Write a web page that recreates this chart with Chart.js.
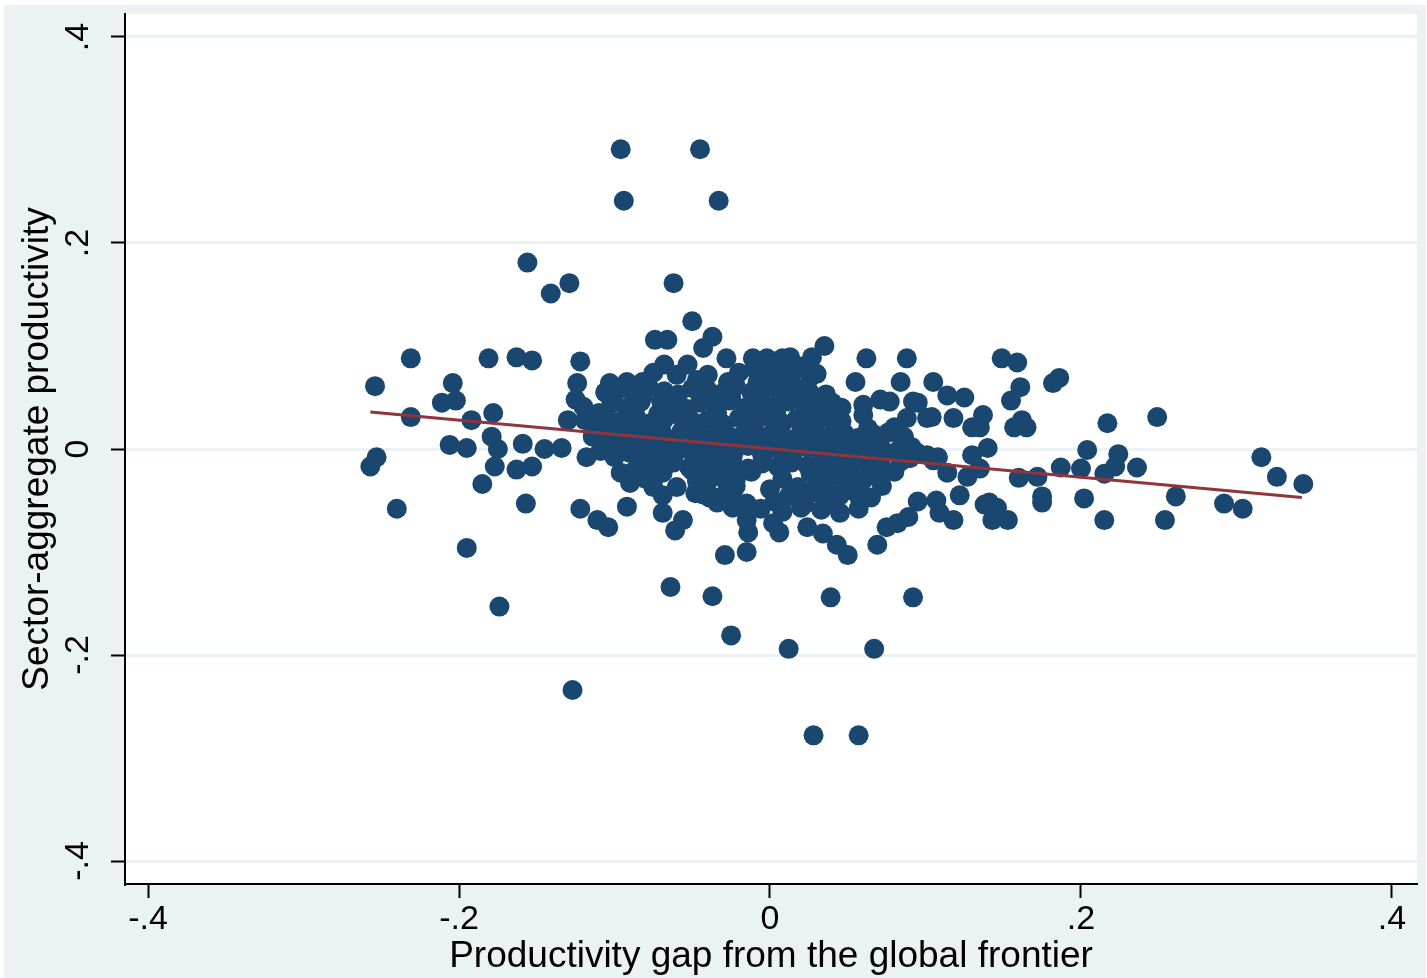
<!DOCTYPE html>
<html>
<head>
<meta charset="utf-8">
<script src="https://cdn.jsdelivr.net/npm/chart.js@4"></script>
<style>
  html, body { margin: 0; padding: 0; background: #fff; }
  #wrap { width: 1427px; height: 978px; }
</style>
</head>
<body>
<div id="wrap"><canvas id="chart" width="1427" height="978"></canvas></div>
<script>
// axis setup
const tickValues = [-0.4, -0.2, 0, 0.2, 0.4];
const xRange = [-0.4148, 0.4161];
const yRange = [-0.4223, 0.4223];

// linear fit line end points
const fitX = [-0.257, 0.342];
const fitY = [0.036, -0.047];

// points: [gap, productivity]
const outerPoints = [
  [-0.096, 0.291], [-0.045, 0.291], [-0.094, 0.241], [-0.033, 0.241], [-0.156, 0.181],
  [-0.129, 0.161], [-0.141, 0.151], [-0.062, 0.161], [-0.050, 0.124], [-0.037, 0.109],
  [-0.074, 0.106], [-0.066, 0.106], [-0.043, 0.098], [0.035, 0.100], [0.013, 0.089],
  [0.027, 0.089], [0.062, 0.088], [0.088, 0.088], [-0.028, 0.088], [-0.011, 0.088],
  [-0.002, 0.088], [0.008, 0.088], [0.149, 0.088], [0.159, 0.084],
  [-0.127, -0.234], [-0.064, -0.134], [-0.037, -0.143], [-0.025, -0.181], [0.012, -0.194],
  [0.028, -0.278], [0.057, -0.278], [0.067, -0.194], [0.039, -0.144], [0.092, -0.144],
];

const leftPoints = [
  [-0.231, 0.088], [-0.181, 0.088], [-0.163, 0.089], [-0.153, 0.086], [-0.122, 0.085],
  [-0.254, 0.061], [-0.204, 0.064], [-0.211, 0.045], [-0.202, 0.047], [-0.231, 0.031],
  [-0.192, 0.028], [-0.178, 0.035], [-0.179, 0.012], [-0.175, 0.000], [-0.206, 0.004],
  [-0.195, 0.001], [-0.253, -0.008], [-0.257, -0.017], [-0.177, -0.017], [-0.185, -0.034],
  [-0.240, -0.058], [-0.195, -0.096], [-0.174, -0.153], [-0.159, 0.005], [-0.163, -0.020],
  [-0.153, -0.017], [-0.157, -0.053], [-0.145, 0.000], [-0.134, 0.001], [-0.124, 0.064],
  [-0.125, 0.048], [-0.120, 0.041], [-0.130, 0.028], [-0.119, 0.028], [-0.118, -0.008],
  [-0.122, -0.058], [-0.111, -0.069], [-0.104, -0.076],
];

const rimPoints = [
  [-0.029, -0.103], [-0.015, -0.100], [-0.014, -0.081], [-0.015, -0.069], [0.002, -0.072],
  [0.006, -0.081], [-0.024, -0.057], [-0.039, -0.047], [-0.048, -0.043], [-0.056, -0.069],
  [-0.061, -0.079], [-0.069, -0.062], [-0.069, -0.045], [-0.075, -0.037], [-0.092, -0.056],
  [-0.090, -0.033], [-0.096, -0.023], [-0.092, 0.065], [-0.082, 0.065], [-0.103, 0.064],
  [-0.068, 0.082], [-0.053, 0.082], [-0.047, 0.067], [-0.027, 0.065], [-0.008, 0.065],
  [0.006, 0.065], [0.026, 0.070], [0.055, 0.065], [0.084, 0.065], [0.105, 0.065],
  [0.114, 0.052], [0.125, 0.050], [0.095, 0.045], [0.071, 0.048], [0.077, 0.046],
  [0.137, 0.033], [0.130, 0.021], [0.118, 0.030], [0.101, 0.030], [0.088, 0.030],
  [0.046, 0.040], [0.060, 0.043], [0.086, 0.011], [0.101, -0.006], [0.095, -0.004],
  [0.108, -0.008], [0.130, -0.006], [0.140, 0.001], [0.114, -0.023], [0.127, -0.027],
  [0.122, -0.045], [0.107, -0.050], [0.095, -0.051], [0.089, -0.066], [0.118, -0.069],
  [0.109, -0.062], [0.138, -0.054], [0.082, -0.072], [0.069, -0.093], [0.050, -0.103],
  [0.043, -0.093], [0.034, -0.082], [0.024, -0.076], [0.075, -0.076], [0.092, 0.046],
  [0.104, 0.031],
];

const rightPoints = [
  [0.161, 0.060], [0.155, 0.047], [0.182, 0.064], [0.186, 0.069], [0.135, 0.021],
  [0.157, 0.021], [0.165, 0.021], [0.162, 0.028], [0.217, 0.025], [0.249, 0.031],
  [0.204, -0.001], [0.224, -0.005], [0.222, -0.017], [0.215, -0.024], [0.236, -0.018],
  [0.200, -0.019], [0.187, -0.018], [0.172, -0.027], [0.160, -0.028], [0.135, -0.019],
  [0.175, -0.046], [0.175, -0.052], [0.202, -0.048], [0.261, -0.046], [0.141, -0.052],
  [0.146, -0.057], [0.143, -0.069], [0.153, -0.069], [0.215, -0.069], [0.254, -0.069],
  [0.292, -0.053], [0.304, -0.058], [0.316, -0.008], [0.326, -0.027], [0.343, -0.034],
];

const corePoints = [
  // upper band
  [-0.040, 0.072], [-0.020, 0.074], [0.000, 0.071], [0.015, 0.075], [0.030, 0.073],
  [-0.010, 0.078], [0.005, 0.079], [0.020, 0.080], [-0.060, 0.072], [-0.075, 0.074],
  [-0.106, 0.055], [-0.097, 0.058], [-0.088, 0.054], [-0.078, 0.060], [-0.068, 0.056],
  [-0.059, 0.053], [-0.050, 0.059], [-0.040, 0.057], [-0.031, 0.054], [-0.022, 0.061],
  [-0.012, 0.055], [-0.003, 0.058], [0.007, 0.052], [0.016, 0.060], [0.025, 0.056],
  [0.036, 0.053],
  [-0.101, 0.049], [-0.082, 0.051], [-0.063, 0.048], [-0.044, 0.052], [-0.025, 0.050],
  [-0.006, 0.047], [0.013, 0.051], [0.032, 0.049],
  [-0.102, 0.044], [-0.092, 0.040], [-0.083, 0.046], [-0.070, 0.046], [-0.064, 0.043],
  [-0.054, 0.039], [-0.045, 0.045], [-0.035, 0.042], [-0.026, 0.047], [-0.016, 0.040],
  [-0.007, 0.044], [0.003, 0.041], [0.012, 0.046], [0.022, 0.043], [0.031, 0.039],
  [0.040, 0.045],
  [-0.110, 0.035], [-0.091, 0.036], [-0.072, 0.034], [-0.053, 0.037], [-0.034, 0.035],
  [-0.015, 0.033], [0.004, 0.036], [0.023, 0.034], [0.042, 0.036], [0.060, 0.033],
  [-0.115, 0.026], [-0.105, 0.030], [-0.096, 0.027], [-0.086, 0.031], [-0.077, 0.025],
  [-0.068, 0.029], [-0.058, 0.032], [-0.049, 0.026], [-0.040, 0.028], [-0.030, 0.024],
  [-0.020, 0.030], [-0.011, 0.027], [-0.002, 0.031], [0.008, 0.025], [0.017, 0.029],
  [0.027, 0.026], [0.036, 0.030], [0.046, 0.027],
  // middle band
  [-0.108, 0.020], [-0.089, 0.021], [-0.070, 0.019], [-0.051, 0.022], [-0.032, 0.020],
  [-0.013, 0.018], [0.006, 0.021], [0.025, 0.019], [0.044, 0.022], [0.063, 0.020],
  [0.080, 0.021],
  [-0.114, 0.012], [-0.104, 0.015], [-0.095, 0.011], [-0.085, 0.016], [-0.076, 0.013],
  [-0.066, 0.010], [-0.057, 0.017], [-0.047, 0.014], [-0.038, 0.011], [-0.028, 0.015],
  [-0.019, 0.012], [-0.009, 0.016], [0.000, 0.013], [0.010, 0.010], [0.019, 0.014],
  [0.029, 0.017], [0.038, 0.012], [0.048, 0.015], [0.057, 0.011], [0.067, 0.014],
  [0.076, 0.016], [0.086, 0.012],
  [-0.104, 0.006], [-0.085, 0.007], [-0.066, 0.005], [-0.047, 0.008], [-0.028, 0.006],
  [-0.009, 0.004], [0.010, 0.007], [0.029, 0.005], [0.048, 0.008], [0.067, 0.006],
  [0.085, 0.005],
  [-0.109, -0.002], [-0.099, 0.001], [-0.090, -0.004], [-0.080, 0.000], [-0.071, -0.003],
  [-0.061, 0.002], [-0.052, -0.001], [-0.042, -0.005], [-0.033, 0.001], [-0.023, -0.002],
  [-0.014, 0.003], [-0.004, -0.004], [0.005, 0.000], [0.015, -0.003], [0.024, 0.002],
  [0.034, -0.001], [0.043, -0.004], [0.053, 0.001], [0.062, -0.002], [0.072, 0.000],
  [0.081, -0.003], [0.091, 0.002],
  [-0.100, -0.008], [-0.081, -0.009], [-0.062, -0.007], [-0.043, -0.010], [-0.024, -0.008],
  [-0.005, -0.006], [0.014, -0.009], [0.033, -0.007], [0.052, -0.010], [0.071, -0.008],
  [0.090, -0.009], [0.105, -0.011],
  // lower band
  [-0.081, -0.014], [-0.071, -0.017], [-0.062, -0.013], [-0.052, -0.018], [-0.043, -0.015],
  [-0.033, -0.012], [-0.024, -0.016], [-0.014, -0.019], [-0.005, -0.014], [0.005, -0.017],
  [0.014, -0.013], [0.024, -0.016], [0.033, -0.018], [0.043, -0.014], [0.052, -0.017],
  [0.062, -0.013], [0.071, -0.015], [0.084, -0.012],
  [-0.088, -0.022], [-0.069, -0.023], [-0.050, -0.021], [-0.031, -0.024], [-0.012, -0.022],
  [0.007, -0.020], [0.026, -0.023], [0.045, -0.021], [0.064, -0.024], [0.080, -0.022],
  [-0.080, -0.029], [-0.047, -0.031], [-0.038, -0.028], [-0.028, -0.032], [-0.022, -0.030],
  [0.008, -0.029], [0.030, -0.033], [0.040, -0.028], [0.050, -0.031], [0.060, -0.030],
  [0.069, -0.027],
  [-0.060, -0.037], [-0.041, -0.038], [-0.022, -0.036], [0.000, -0.039], [0.018, -0.037],
  [0.037, -0.035], [0.056, -0.038], [0.072, -0.036],
  [-0.043, -0.044], [-0.033, -0.047], [-0.024, -0.042], [0.012, -0.046], [0.026, -0.043],
  [0.035, -0.048], [0.045, -0.045], [0.055, -0.042], [0.065, -0.047],
  [-0.034, -0.052], [-0.015, -0.053], [0.003, -0.051], [0.022, -0.054], [0.040, -0.052],
  [0.058, -0.050],
  [-0.006, -0.058], [0.008, -0.061], [0.020, -0.057], [0.033, -0.059], [0.045, -0.062],
  [0.057, -0.058],
];

const allPoints = [...outerPoints, ...leftPoints, ...rimPoints, ...rightPoints, ...corePoints];

const fontFamily = "'Liberation Sans', Arial, Helvetica, sans-serif";

function tickLabel(value) {
  if (Math.abs(value) < 1e-9) return '0';
  const digit = Math.round(Math.abs(value) * 10);
  return (value < 0 ? '-' : '') + '.' + digit;
}

function setTicks(scale) {
  scale.ticks = tickValues.map(value => ({ value }));
}

// fixed box sizes so the plot region lands where it is in the picture
function fixBox(scale, size) {
  if (scale.isHorizontal()) scale.height = size;
  else scale.width = size;
  scale.paddingTop = 0;
  scale.paddingBottom = 0;
  scale.paddingLeft = 0;
  scale.paddingRight = 0;
}

// light outer background and white plot region
const backdrop = {
  id: 'backdrop',
  beforeDraw(chart) {
    const { ctx, chartArea } = chart;
    ctx.save();
    ctx.fillStyle = '#eaf2f3';
    ctx.fillRect(4, 5, chart.width - 5, chart.height - 5);
    ctx.fillStyle = '#ffffff';
    ctx.fillRect(chartArea.left, chartArea.top, chartArea.right - chartArea.left, chartArea.bottom - chartArea.top);
    ctx.restore();
  },
};

new Chart(document.getElementById('chart'), {
  type: 'scatter',
  data: {
    datasets: [
      {
        type: 'line',
        data: fitX.map((x, i) => ({ x, y: fitY[i] })),
        borderColor: '#90353b',
        borderWidth: 3,
        pointRadius: 0,
        showLine: true,
        fill: false,
        tension: 0,
        order: 0,
      },
      {
        data: allPoints.map(([x, y]) => ({ x, y })),
        backgroundColor: '#1a476f',
        borderWidth: 0,
        pointRadius: 10,
        pointHoverRadius: 10,
        order: 1,
      },
    ],
  },
  options: {
    responsive: false,
    animation: false,
    events: [],
    layout: { padding: { left: 0, top: 14, right: 9, bottom: 0 } },
    plugins: { legend: { display: false }, tooltip: { enabled: false } },
    scales: {
      x: {
        type: 'linear',
        min: xRange[0],
        max: xRange[1],
        afterBuildTicks: setTicks,
        afterFit: scale => fixBox(scale, 94),
        border: { display: true, color: '#000', width: 2 },
        grid: { drawOnChartArea: false, drawTicks: true, tickLength: 14, tickColor: '#000', tickWidth: 2 },
        ticks: {
          callback: tickLabel,
          color: '#000',
          padding: 1,
          maxRotation: 0,
          autoSkip: false,
          font: { family: fontFamily, size: 34 },
        },
        title: {
          display: true,
          text: 'Productivity gap from the global frontier',
          color: '#000',
          padding: { top: 0, bottom: 0 },
          font: { family: fontFamily, size: 37, lineHeight: 1.15 },
        },
      },
      y: {
        type: 'linear',
        min: yRange[0],
        max: yRange[1],
        afterBuildTicks: setTicks,
        afterFit: scale => fixBox(scale, 125),
        border: { display: true, color: '#000', width: 2 },
        grid: { color: '#eaf2f3', lineWidth: 3, drawTicks: true, tickLength: 14, tickColor: '#000', tickWidth: 2 },
        ticks: {
          callback: tickLabel,
          color: '#000',
          padding: 13,
          minRotation: 90,
          maxRotation: 90,
          crossAlign: 'center',
          autoSkip: false,
          font: { family: fontFamily, size: 34 },
        },
        title: {
          display: true,
          text: 'Sector-aggregate productivity',
          color: '#000',
          padding: { top: 17, bottom: 0 },
          font: { family: fontFamily, size: 37, lineHeight: 1.15 },
        },
      },
    },
  },
  plugins: [backdrop],
});
</script>
</body>
</html>
